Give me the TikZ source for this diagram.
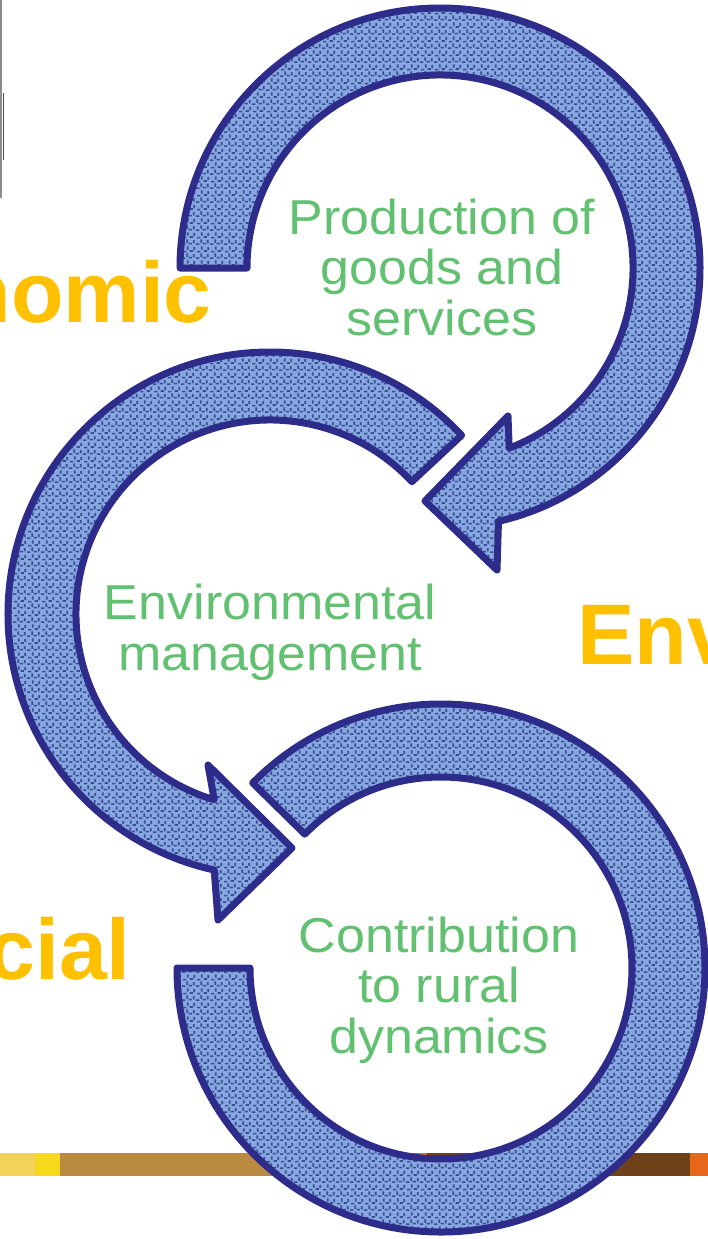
\documentclass[tikz,border=0pt]{standalone}
\usepackage{fontspec}
\setmainfont{Liberation Sans}
\newfontfamily\cyclefont[FakeStretch=1.06]{Liberation Sans}
\usetikzlibrary{patterns}

\definecolor{ringblue}{HTML}{88A7E2}
\definecolor{weavedark}{HTML}{34508E}
\definecolor{ringedge}{HTML}{2E2C8A}
\definecolor{labelgold}{HTML}{FFC000}
\definecolor{labelgreen}{HTML}{62C071}
\definecolor{framegray}{HTML}{8C8C8C}
\definecolor{barpale}{HTML}{F2D25A}
\definecolor{baryellow}{HTML}{F6D91A}
\definecolor{bartan}{HTML}{B98A40}
\definecolor{barorange}{HTML}{D8742A}
\definecolor{barbrown}{HTML}{6E4119}
\definecolor{barflame}{HTML}{E8661C}

% woven cloth texture for the circular arrows: short warp and weft threads
\pgfdeclarepatternformonly{weave}{\pgfpointorigin}{\pgfpoint{14pt}{14pt}}{\pgfpoint{14pt}{14pt}}{%
  \pgfpathrectangle{\pgfpoint{0pt}{0pt}}{\pgfpoint{3.5pt}{1.8pt}}%
  \pgfpathrectangle{\pgfpoint{7pt}{0.6pt}}{\pgfpoint{3.5pt}{1.8pt}}%
  \pgfpathrectangle{\pgfpoint{1.2pt}{7pt}}{\pgfpoint{3.5pt}{1.8pt}}%
  \pgfpathrectangle{\pgfpoint{8.2pt}{7.6pt}}{\pgfpoint{3.5pt}{1.8pt}}%
  \pgfpathrectangle{\pgfpoint{4.7pt}{2.4pt}}{\pgfpoint{1.8pt}{3.5pt}}%
  \pgfpathrectangle{\pgfpoint{11.7pt}{1.8pt}}{\pgfpoint{1.8pt}{3.5pt}}%
  \pgfpathrectangle{\pgfpoint{5.2pt}{9.9pt}}{\pgfpoint{1.8pt}{3.5pt}}%
  \pgfpathrectangle{\pgfpoint{12.2pt}{9.4pt}}{\pgfpoint{1.8pt}{3.5pt}}%
  \pgfusepath{fill}}

\tikzset{
  ring/.style={preaction={fill=ringblue}, pattern=weave, pattern color=weavedark,
    draw=ringedge, line width=7pt, line join=round},
  goldlabel/.style={inner sep=0pt, text=labelgold,
    font=\bfseries\fontsize{86}{86}\selectfont},
  % anchor=base sits on the baseline of the last line
  cyclelabel/.style={inner sep=0pt, text=labelgreen, align=center, anchor=base,
    font=\cyclefont\fontsize{49}{50.5}\selectfont},
}

\begin{document}
\begin{tikzpicture}[x=1pt, y=-1pt]
  \useasboundingbox (0,0) rectangle (708,1239);
  \fill[white] (0,0) rectangle (708,1239);

  % edge of the frame at the upper left
  \draw[framegray, line width=2.5pt] (1.2,0) -- (1.2,198);
  \draw[black!70, line width=1pt] (3.2,93) -- (3.2,160);

  % coloured strip along the bottom
  \fill[barpale]   (0,1153)   rectangle (35,1176);
  \fill[baryellow] (35,1153)  rectangle (60,1176);
  \fill[bartan]    (60,1153)  rectangle (403,1176);
  \fill[barorange] (403,1153) rectangle (427,1176);
  \fill[barbrown]  (427,1153) rectangle (690,1176);
  \fill[barflame]  (690,1153) rectangle (708,1176);

  % lower ring: contribution to rural dynamics
  \begin{scope}[shift={(441,968)}]
    \path[ring] (180:264) arc[start angle=180, end angle=-135.5, radius=264]
      -- (-135.5:191) arc[start angle=-135.5, end angle=180, radius=191] -- cycle;
  \end{scope}

  % middle arrow: environmental management
  \begin{scope}[shift={(270,614)}]
    \path[ring] (-43:262) arc[start angle=-43, end angle=-257.7, radius=262]
      -- (-52,306) -- (22,234) -- (-62,151)
      -- (-253.3:194) arc[start angle=-253.3, end angle=-43, radius=194] -- cycle;
  \end{scope}

  % upper arrow: production of goods and services
  \begin{scope}[shift={(440,268)}]
    \path[ring] (180:260) arc[start angle=180, end angle=437, radius=260]
      -- (57,302) -- (-15,233) -- (68,148)
      -- (429:193) arc[start angle=429, end angle=180, radius=193] -- cycle;
  \end{scope}

  % pillar names
  \node[goldlabel, anchor=base east] (economic) at (212,322) {Economic};
  \node[goldlabel, anchor=base west] (environmental) at (577,664) {Environmental};
  \node[goldlabel, anchor=base east] (social) at (131,979) {Social};

  % functions inside the rings
  \node[cyclelabel] (production) at (442,335) {Production of\\goods and\\services};
  \node[cyclelabel] (management) at (270,670) {Environmental\\management};
  \node[cyclelabel] (contribution) at (439,1053) {Contribution\\to rural\\dynamics};
\end{tikzpicture}
\end{document}
